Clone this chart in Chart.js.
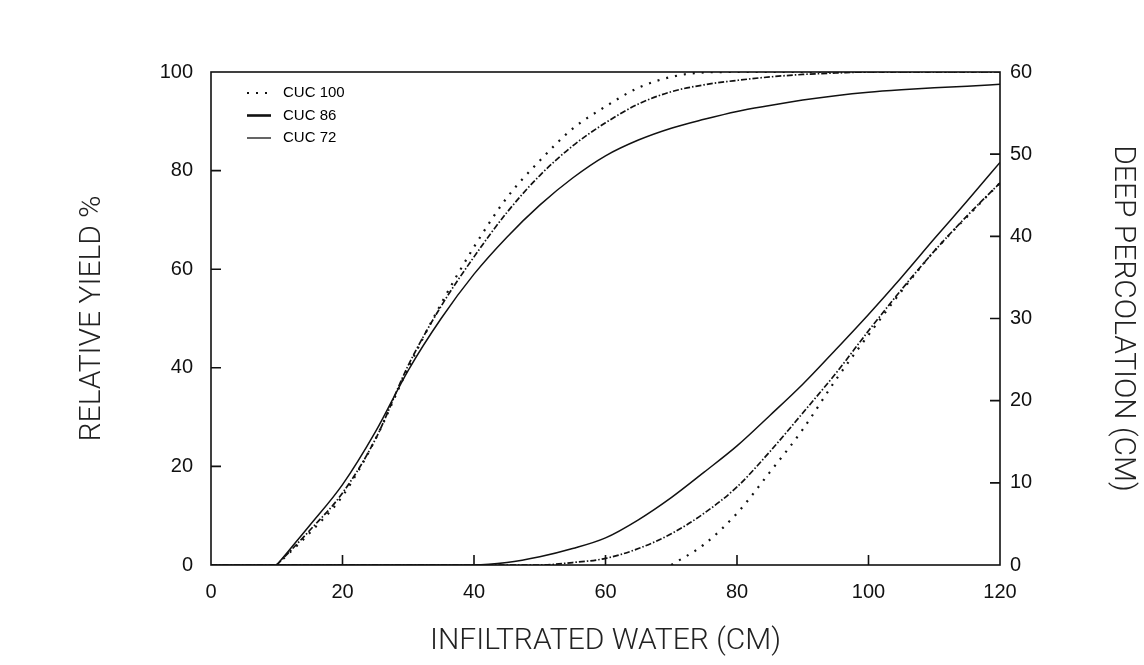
<!DOCTYPE html>
<html>
<head>
<meta charset="utf-8">
<title>Relative yield and deep percolation</title>
<script src="https://cdn.jsdelivr.net/npm/chart.js@4.4.1/dist/chart.umd.min.js"></script>
<style>
  html, body { margin: 0; padding: 0; background: #fff; }
  #wrap { width: 1144px; height: 665px; }
</style>
</head>
<body>
<div id="wrap"><canvas id="yieldChart" width="1144" height="665"></canvas></div>
<script>
// ---------------- DATA ----------------
const waterCm = [0, 5, 10, 15, 20, 25, 30, 35, 40, 45, 50, 55, 60, 65, 70, 75, 80, 85, 90, 95, 100, 105, 110, 115, 120];

// relative yield (%), left axis - curves start at 10 cm
const yieldCuc100 = [null, null, 0, 6.5, 14, 25.5, 40, 53, 64.5, 74.5, 82, 88.5, 93, 96.8, 99, 99.9, 100, 100, 100, 100, 100, 100, 100, 100, 100];
const yieldCuc86  = [null, null, 0, 7, 14.6, 25.5, 40.5, 52.5, 62.5, 71.5, 79, 85, 89.7, 93.5, 96, 97.4, 98.3, 99, 99.5, 99.8, 100, 100, 100, 100, 100];
const yieldCuc72  = [null, null, 0, 8, 16.3, 27, 39.5, 50, 59, 66.5, 73, 78.5, 83, 86.2, 88.6, 90.4, 92, 93.2, 94.3, 95.2, 95.9, 96.4, 96.8, 97.1, 97.5];

// deep percolation (cm), right axis
const percCuc100 = [null, null, null, null, null, null, null, null, null, null, null, null, null, null, 0, 2.5, 6.3, 11.3, 16.5, 22.5, 28, 33.3, 38.2, 42.4, 46.5];
const percCuc86  = [0, 0, 0, 0, 0, 0, 0, 0, 0, 0, 0, 0.3, 0.8, 2, 3.8, 6.3, 9.5, 13.8, 18.5, 23.3, 28.5, 33.5, 38.2, 42.5, 46.5];
const percCuc72  = [0, 0, 0, 0, 0, 0, 0, 0, 0, 0.3, 1, 2, 3.3, 5.5, 8.2, 11.3, 14.5, 18.2, 22, 26.2, 30.5, 35, 39.7, 44.3, 49];

const seriesNames = ["CUC 100", "CUC 86", "CUC 72"];
const xTicks = [0, 20, 40, 60, 80, 100, 120];
const yieldTicks = [0, 20, 40, 60, 80, 100];
const percTicks = [0, 10, 20, 30, 40, 50, 60];

// ---------------- STYLES ----------------
const INK = "#111";
const lineStyles = [
  { borderDash: [2, 7], borderWidth: 2.2, legendWidth: 2.2 },        // dotted
  { borderDash: [6, 2, 1.5, 2], borderWidth: 1.7, legendWidth: 2.6 }, // dash-dot
  { borderDash: [], borderWidth: 1.5, legendWidth: 1.3 }              // solid
];
const tickFont = { family: "'Liberation Sans', Arial, sans-serif", size: 20 };
const titleFont = { family: "Roboto, 'Liberation Sans', sans-serif", size: 30, weight: "300" };

function toPoints(values) {
  return waterCm.map((x, i) => ({ x: x, y: values[i] }));
}

function makeSet(label, values, axis, idx) {
  return {
    label: label,
    data: toPoints(values),
    yAxisID: axis,
    borderColor: INK,
    borderWidth: lineStyles[idx].borderWidth,
    borderDash: lineStyles[idx].borderDash,
    borderCapStyle: "butt",
    pointRadius: 0,
    fill: false,
    cubicInterpolationMode: "monotone"
  };
}

const datasets = [
  makeSet(seriesNames[0], yieldCuc100, "yYield", 0),
  makeSet(seriesNames[1], yieldCuc86, "yYield", 1),
  makeSet(seriesNames[2], yieldCuc72, "yYield", 2),
  makeSet(seriesNames[0], percCuc100, "yPerc", 0),
  makeSet(seriesNames[1], percCuc86, "yPerc", 1),
  makeSet(seriesNames[2], percCuc72, "yPerc", 2)
];

// ---------------- FRAME, INNER TICKS, LEGEND ----------------
const frameAndTicks = {
  id: "frameAndTicks",
  afterDatasetsDraw(chart) {
    const { ctx, chartArea: a, scales } = chart;
    ctx.save();
    ctx.strokeStyle = INK;
    ctx.lineWidth = 1.6;
    ctx.setLineDash([]);
    ctx.strokeRect(a.left, a.top, a.right - a.left, a.bottom - a.top);

    const len = 10;
    ctx.beginPath();
    xTicks.slice(1, -1).forEach(v => {
      const px = scales.x.getPixelForValue(v);
      ctx.moveTo(px, a.bottom);
      ctx.lineTo(px, a.bottom - len);
    });
    yieldTicks.slice(1, -1).forEach(v => {
      const py = scales.yYield.getPixelForValue(v);
      ctx.moveTo(a.left, py);
      ctx.lineTo(a.left + len, py);
    });
    percTicks.slice(1, -1).forEach(v => {
      const py = scales.yPerc.getPixelForValue(v);
      ctx.moveTo(a.right, py);
      ctx.lineTo(a.right - len, py);
    });
    ctx.stroke();

    // legend in the upper left corner of the plot
    const x0 = a.left + 36, x1 = a.left + 58, textX = a.left + 72;
    ctx.font = "15px 'Liberation Sans', Arial, sans-serif";
    ctx.fillStyle = "#000";
    ctx.textBaseline = "middle";
    seriesNames.forEach((name, i) => {
      const y = a.top + 21 + i * 22.5;
      ctx.beginPath();
      ctx.lineWidth = lineStyles[i].legendWidth;
      ctx.setLineDash(i === 0 ? lineStyles[0].borderDash : []);
      ctx.moveTo(x0, y);
      ctx.lineTo(x1 + 2, y);
      ctx.stroke();
      ctx.fillText(name, textX, y);
    });
    ctx.restore();
  }
};

// ---------------- CHART ----------------
const ctx = document.getElementById("yieldChart").getContext("2d");
new Chart(ctx, {
  type: "line",
  data: { datasets: datasets },
  options: {
    responsive: false,
    animation: false,
    layout: { padding: { top: 72, left: 0, right: 0, bottom: 0 } },
    plugins: {
      legend: { display: false },
      tooltip: { enabled: false }
    },
    scales: {
      x: {
        type: "linear",
        min: 0,
        max: 120,
        afterBuildTicks: s => { s.ticks = xTicks.map(v => ({ value: v })); },
        afterFit: s => { s.height = 100; },
        grid: { display: false, drawTicks: false },
        border: { display: false },
        ticks: { color: INK, font: tickFont, padding: 15 },
        title: {
          display: true,
          text: "INFILTRATED WATER (CM)",
          color: "#222",
          font: titleFont,
          padding: { top: 0, bottom: 6 }
        }
      },
      yYield: {
        type: "linear",
        position: "left",
        min: 0,
        max: 100,
        afterBuildTicks: s => { s.ticks = yieldTicks.map(v => ({ value: v })); },
        afterFit: s => { s.width = 211; },
        grid: { display: false, drawTicks: false },
        border: { display: false },
        ticks: { color: INK, font: tickFont, padding: 18 },
        title: {
          display: true,
          text: "RELATIVE YIELD %",
          color: "#222",
          font: titleFont,
          padding: { top: 74, bottom: 0 }
        }
      },
      yPerc: {
        type: "linear",
        position: "right",
        min: 0,
        max: 60,
        afterBuildTicks: s => { s.ticks = percTicks.map(v => ({ value: v })); },
        afterFit: s => { s.width = 144; },
        grid: { display: false, drawTicks: false },
        border: { display: false },
        ticks: { color: INK, font: tickFont, padding: 10 },
        title: {
          display: true,
          text: "DEEP PERCOLATION (CM)",
          color: "#222",
          font: titleFont,
          padding: { top: 4, bottom: 0 }
        }
      }
    }
  },
  plugins: [frameAndTicks]
});
</script>
</body>
</html>
